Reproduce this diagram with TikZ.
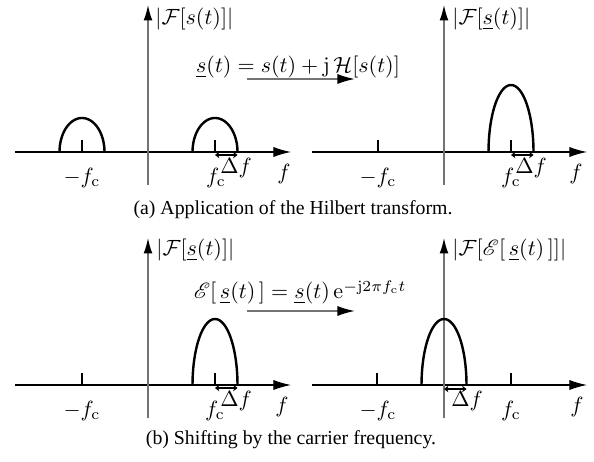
\documentclass[tikz,border=0pt]{standalone}
\usepackage{amsmath,mathrsfs}
\usepackage[no-math]{fontspec}
\setmainfont{Liberation Serif}
\usetikzlibrary{arrows.meta}
\begin{document}
\begin{tikzpicture}[x=0.4545pt,y=-0.4545pt,
  haxis/.style={draw=black,line width=0.5pt,-{Latex[length=8pt,width=4.6pt]}},
  vaxis/.style={draw=black!55,line width=0.6pt,-{Latex[length=7pt,width=4pt,color=black]}},
  hump/.style={line width=1.1pt},
  tickmark/.style={line width=0.5pt},
  dfarrow/.style={line width=0.7pt,{Stealth[length=2pt,width=3pt]}-{Stealth[length=2pt,width=3pt]}},
  maparrow/.style={draw=black!55,line width=0.8pt,-{Latex[length=8pt,width=4.6pt,color=black]}},
  lbl/.style={inner sep=0pt},
  captext/.style={inner sep=0pt,font=\fontsize{9}{11}\selectfont}]
\useasboundingbox (0,0) rectangle (594,462);

% ---------- top left ----------
\begin{scope}[shift={(148,152)}]
  \coordinate (a1l) at (-133,0); \coordinate (a1r) at (143,0);
  \coordinate (a1b) at (0,33);   \coordinate (a1t) at (0,-147);
  \draw[haxis] (a1l) -- (a1r);
  \draw[vaxis] (a1b) -- (a1t);
  \draw[tickmark] (-66,0) -- (-66,-12);
  \draw[tickmark] (67,0) -- (67,-12);
  \draw[hump] plot[domain=180:0,samples=40] ({-66+22.5*cos(\x)},{-34*sin(\x)});
  \draw[hump] plot[domain=180:0,samples=40] ({67+22.5*cos(\x)},{-34*sin(\x)});
  \coordinate (d1a) at (67,3); \coordinate (d1b) at (89.5,3);
  \draw[dfarrow] (d1a) -- (d1b);
  \node[lbl,anchor=base west] (y1) at (7,-127) {$|\mathcal{F}[s(t)]|$};
  \node[lbl] (mfc1) at (-66,26) {$-f_\mathrm{c}$};
  \node[lbl] (fc1) at (68,26) {$f_\mathrm{c}$};
  \node[lbl] (df1) at (88,16) {$\Delta f$};
  \node[lbl] (f1) at (136,22) {$f$};
\end{scope}

% ---------- top right ----------
\begin{scope}[shift={(444,152)}]
  \coordinate (a2l) at (-132,0); \coordinate (a2r) at (143,0);
  \coordinate (a2b) at (0,33);   \coordinate (a2t) at (0,-147);
  \draw[haxis] (a2l) -- (a2r);
  \draw[vaxis] (a2b) -- (a2t);
  \draw[tickmark] (-66,0) -- (-66,-12);
  \draw[tickmark] (67,0) -- (67,-12);
  \draw[hump] plot[domain=180:0,samples=40] ({67+22.5*cos(\x)},{-67*sin(\x)});
  \coordinate (d2a) at (67,3); \coordinate (d2b) at (89.5,3);
  \draw[dfarrow] (d2a) -- (d2b);
  \node[lbl,anchor=base west] (y2) at (8,-127) {$|\mathcal{F}[\underline{s}(t)]|$};
  \node[lbl] (mfc2) at (-66,26) {$-f_\mathrm{c}$};
  \node[lbl] (fc2) at (67,26) {$f_\mathrm{c}$};
  \node[lbl] (df2) at (87,16) {$\Delta f$};
  \node[lbl] (f2) at (132,22) {$f$};
\end{scope}

% ---------- top mapping ----------
\node[lbl,anchor=base] (eq1) at (298,73) {$\underline{s}(t) = s(t) + \mathrm{j}\,\mathcal{H}[s(t)]$};
\coordinate (m1a) at (247,79); \coordinate (m1b) at (355,79);
\draw[maparrow] (m1a) -- (m1b);
\node[captext] (capa) at (293,210) {(a) Application of the Hilbert transform.};

% ---------- bottom left ----------
\begin{scope}[shift={(148,385)}]
  \coordinate (a3l) at (-133,0); \coordinate (a3r) at (143,0);
  \coordinate (a3b) at (0,33);   \coordinate (a3t) at (0,-147);
  \draw[haxis] (a3l) -- (a3r);
  \draw[vaxis] (a3b) -- (a3t);
  \draw[tickmark] (-66,0) -- (-66,-12);
  \draw[tickmark] (67,0) -- (67,-12);
  \draw[hump] plot[domain=180:0,samples=40] ({67+22.5*cos(\x)},{-66*sin(\x)});
  \coordinate (d3a) at (67,3); \coordinate (d3b) at (89.5,3);
  \draw[dfarrow] (d3a) -- (d3b);
  \node[lbl,anchor=base west] (y3) at (8,-129) {$|\mathcal{F}[\underline{s}(t)]|$};
  \node[lbl] (mfc3) at (-66,26) {$-f_\mathrm{c}$};
  \node[lbl] (fc3) at (67,26) {$f_\mathrm{c}$};
  \node[lbl] (df3) at (88,16) {$\Delta f$};
  \node[lbl] (f3) at (134,22) {$f$};
\end{scope}

% ---------- bottom right ----------
\begin{scope}[shift={(444,385)}]
  \coordinate (a4l) at (-132,0); \coordinate (a4r) at (143,0);
  \coordinate (a4b) at (0,33);   \coordinate (a4t) at (0,-147);
  \draw[haxis] (a4l) -- (a4r);
  \draw[vaxis] (a4b) -- (a4t);
  \draw[tickmark] (-67,0) -- (-67,-12);
  \draw[tickmark] (67,0) -- (67,-12);
  \draw[hump] plot[domain=180:0,samples=40] ({22.5*cos(\x)},{-66*sin(\x)});
  \coordinate (d4a) at (0,4); \coordinate (d4b) at (22.5,4);
  \draw[dfarrow] (d4a) -- (d4b);
  \node[lbl,anchor=base west] (y4) at (8,-129) {$|\mathcal{F}[\mathscr{E}[\,\underline{s}(t)\,]]|$};
  \node[lbl] (mfc4) at (-66,26) {$-f_\mathrm{c}$};
  \node[lbl] (fc4) at (67,26) {$f_\mathrm{c}$};
  \node[lbl] (df4) at (23,16) {$\Delta f$};
  \node[lbl] (f4) at (133,22) {$f$};
\end{scope}

% ---------- bottom mapping ----------
\node[lbl,anchor=base] (eq2) at (300,299) {$\mathscr{E}[\,\underline{s}(t)\,] = \underline{s}(t)\,\mathrm{e}^{-\mathrm{j}2\pi f_\mathrm{c} t}$};
\coordinate (m2a) at (247,311); \coordinate (m2b) at (355,311);
\draw[maparrow] (m2a) -- (m2b);
\node[captext] (capb) at (291,440) {(b) Shifting by the carrier frequency.};
\end{tikzpicture}
\end{document}
